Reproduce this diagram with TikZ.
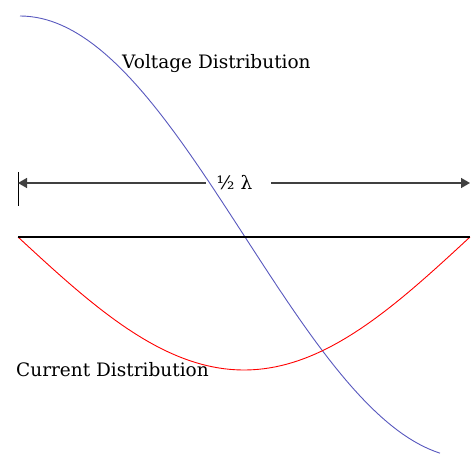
\documentclass[tikz,border=0pt]{standalone}
\usepackage{fontspec}
\setmainfont{DejaVu Serif}
\usetikzlibrary{arrows.meta}
\begin{document}
\begin{tikzpicture}[
  font=\fontsize{18.5}{22}\selectfont,
  x=1pt, y=-1pt,
  lbl/.style={anchor=base west, inner sep=0pt},
  dim/.style={draw=black!75, line width=1.4pt, -{Triangle[length=9pt,width=10pt]}},
  volt/.style={draw={rgb,255:red,88;green,88;blue,190}, line width=0.9pt},
  curr/.style={draw=red, line width=0.9pt},
]
\useasboundingbox (0,0) rectangle (471,457);
% ends of the half wave
\coordinate (left) at (18,237);
\coordinate (right) at (470,237);
\coordinate (dimL) at (18,183);
\coordinate (dimR) at (470,183);
\coordinate (tickT) at (18,172);
\coordinate (tickB) at (18,206);
% distributions
\draw[volt] plot[domain=20:440, samples=80] ({\x},{237-221*cos(0.4*(\x-20))});
\draw[curr] plot[domain=18:470, samples=80] ({\x},{237+133*sin(0.39823*(\x-18))});
\draw[line width=2pt] (left) -- (right);
% half wavelength
\draw[thin] (tickT) -- (tickB);
\node[inner sep=0pt] (half) at (234.5,183) {½ λ};
\path[dim] ([xshift=-11pt]half.west) -- (dimL);
\path[dim] ([xshift=19pt]half.east) -- (dimR);
\node[lbl] (voltage) at (122,69) {Voltage Distribution};
\node[lbl] (current) at (16,376) {Current Distribution};
\end{tikzpicture}
\end{document}
